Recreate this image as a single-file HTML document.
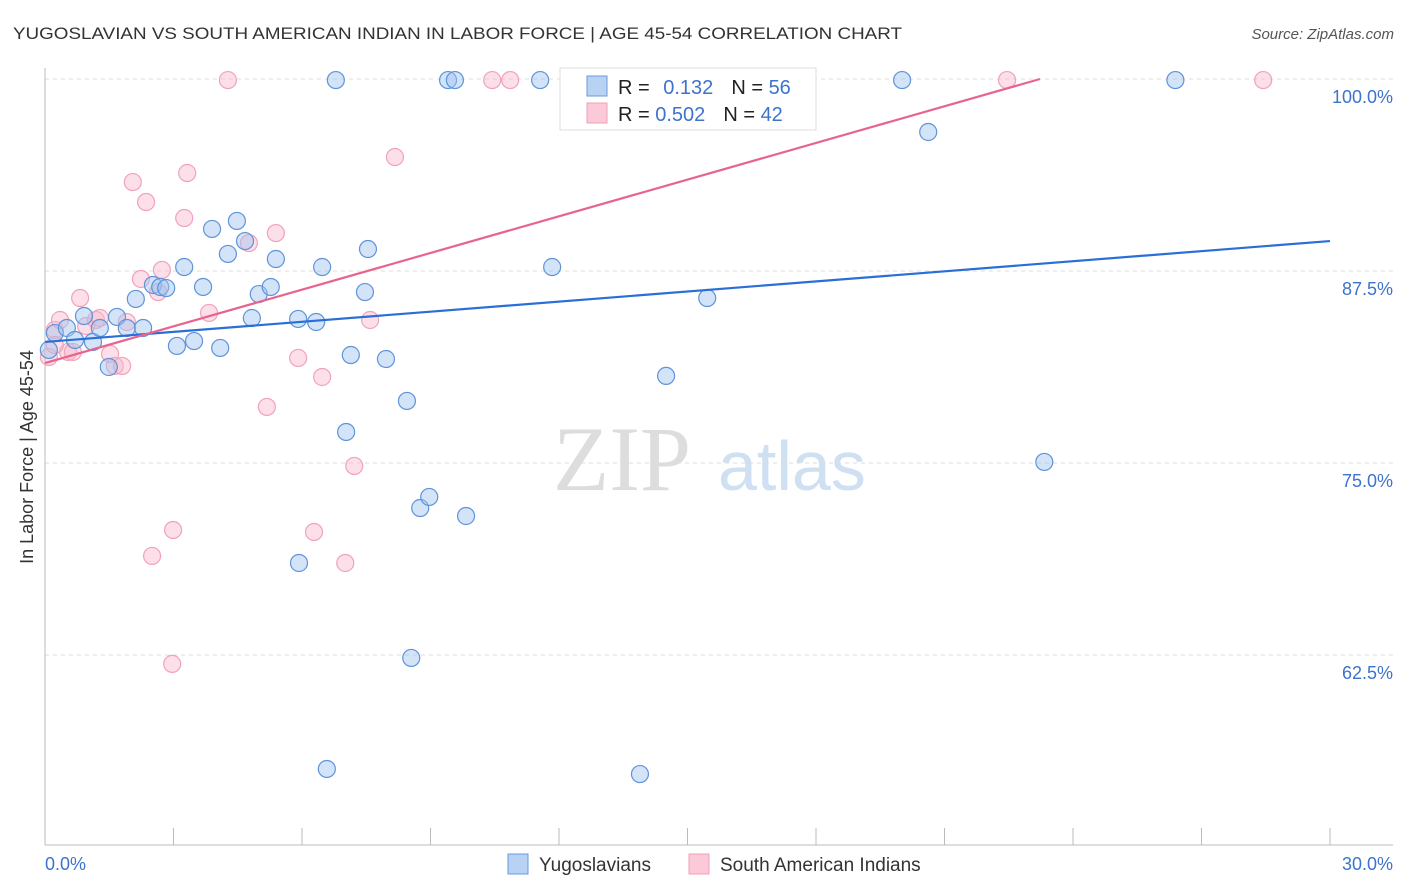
<!DOCTYPE html>
<html><head><meta charset="utf-8"><style>
body{margin:0;background:#fff;font-family:"Liberation Sans",sans-serif;}
svg{display:block}
</style></head><body>
<svg id="c" width="1406" height="892">
<text x="13" y="39" font-size="17" fill="#333" textLength="889" lengthAdjust="spacingAndGlyphs">YUGOSLAVIAN VS SOUTH AMERICAN INDIAN IN LABOR FORCE | AGE 45-54 CORRELATION CHART</text>
<text x="1394" y="39" font-size="15" fill="#555" font-style="italic" text-anchor="end">Source: ZipAtlas.com</text>
<g><text x="553" y="490" font-size="92" font-family="Liberation Serif" fill="#ddd">ZIP</text><text x="718" y="490" font-size="70" fill="#cfe0f3">atlas</text></g>
<text transform="translate(33,457) rotate(-90)" font-size="18" fill="#333" text-anchor="middle">In Labor Force | Age 45-54</text>
<g id="grid"></g><g id="axes"></g><g id="pts"></g><g id="lines"></g>
<g>
<rect x="560" y="68" width="256" height="62" fill="#fff" stroke="#ddd"/>
<rect x="587" y="76" width="20" height="20" fill="#b8d2f3" stroke="#6a9ae0"/>
<rect x="587" y="103" width="20" height="20" fill="#fbc9d8" stroke="#f0a0b8"/>
<text x="618" y="94" font-size="20" fill="#222">R = <tspan fill="#3d73cc" dx="8">0.132</tspan><tspan dx="18" fill="#222">N = </tspan><tspan fill="#3d73cc">56</tspan></text>
<text x="618" y="121" font-size="20" fill="#222">R = <tspan fill="#3d73cc">0.502</tspan><tspan dx="18" fill="#222">N = </tspan><tspan fill="#3d73cc">42</tspan></text>
</g>
<g>
<rect x="508" y="854" width="20" height="20" fill="#b8d2f3" stroke="#6a9ae0"/>
<text x="539" y="871" font-size="19" fill="#333">Yugoslavians</text>
<rect x="689" y="854" width="20" height="20" fill="#fbc9d8" stroke="#f0a0b8"/>
<text x="720" y="871" font-size="19" fill="#333">South American Indians</text>
</g>
</svg>
<script>
const yTicks=[100,87.5,75,62.5];
const yTickLabels=["100.0%","87.5%","75.0%","62.5%"];
const xLabels=["0.0%","30.0%"];
const blueX=[0.23,0.51,0.70,0.91,1.12,1.28,1.49,1.68,1.91,2.12,2.29,2.52,2.69,2.83,3.08,3.25,3.48,3.69,3.90,4.09,4.27,4.48,4.67,4.83,4.99,5.27,5.39,5.91,5.93,6.33,6.47,6.58,6.79,7.03,7.14,7.47,7.54,7.96,8.45,8.55,8.76,8.97,9.41,9.57,9.83,11.56,11.84,12.63,13.89,14.50,15.46,20.01,20.62,23.33,26.39,0.09];
const blueY=[83.46,83.79,83.01,84.57,82.88,83.79,81.25,84.51,83.79,85.68,83.79,86.59,86.46,86.39,82.62,87.76,82.94,86.46,90.24,82.49,88.61,90.76,89.45,84.44,86.0,86.46,88.28,84.38,68.49,84.18,87.76,55.08,99.93,77.02,82.03,86.13,88.93,81.77,79.04,62.31,72.07,72.79,99.93,99.93,71.55,99.93,87.76,99.93,54.75,80.67,85.74,99.93,96.55,75.07,99.93,82.36];
const pinkX=[0.09,0.23,0.35,0.54,0.65,0.82,0.96,1.19,1.28,1.52,1.63,1.80,1.91,2.05,2.24,2.36,2.50,2.64,2.73,2.97,2.99,3.25,3.32,3.83,4.27,4.76,5.18,5.39,5.91,6.28,6.47,7.01,7.22,7.59,8.17,10.44,10.86,12.54,17.35,22.46,28.44,0.23];
const pinkY=[81.90,83.66,84.31,82.23,82.23,85.74,83.92,84.31,84.44,82.10,81.32,81.32,84.18,93.29,86.98,91.99,68.95,86.13,87.57,61.92,70.64,90.95,93.88,84.77,99.93,89.32,78.65,89.97,81.84,70.51,80.60,68.49,74.81,84.31,94.92,99.93,99.93,99.93,99.93,99.93,99.93,82.68];
const blueTrend=[[0,82.88],[30,89.45]];
const pinkTrend=[[0,81.51],[23.23,100]];
const X=v=>45+v/30*1285, Y=v=>79+(100-v)/12.5*192;
const NS="http://www.w3.org/2000/svg";
function mk(t,a,p){const e=document.createElementNS(NS,t);for(const k in a)e.setAttribute(k,a[k]);p.appendChild(e);return e;}
const g=document.getElementById('grid'),ax=document.getElementById('axes'),pts=document.getElementById('pts'),ln=document.getElementById('lines');
yTicks.forEach((t,i)=>{
 const l=mk('line',{x1:45,x2:1393,y1:Y(t),y2:Y(t),stroke:'#ddd','stroke-dasharray':'4,4'},g);
 
 
 const tx=mk('text',{x:1393,y:Y(t)+24,'font-size':18,fill:'#3d73cc','text-anchor':'end'},ax);
 tx.textContent=yTickLabels[i];
 
 
});
const ya=mk('line',{x1:45,x2:45,y1:68,y2:845,stroke:'#bbb'},ax);


const xa=mk('line',{x1:45,x2:1393,y1:845,y2:845,stroke:'#bbb'},ax);


for(let i=0;i<=10;i++){const t=mk('line',{x1:X(i*3),x2:X(i*3),y1:828,y2:845,stroke:'#bbb'},ax);
 
 }
[[0,'start',45],[1,'end',1393]].forEach(([i,a,x])=>{const t=mk('text',{x:x,y:870,'font-size':18,fill:'#3d73cc','text-anchor':a},ax);t.textContent=xLabels[i];
 
 });
function dots(xs,ys,fill,stroke,name){xs.forEach((v,i)=>{const c=mk('circle',{cx:X(v),cy:Y(ys[i]),r:8.5,fill:fill,stroke:stroke,'stroke-width':1.2},pts);
 
 });}
dots(pinkX,pinkY,'rgba(248,185,205,0.45)','#f0a3bb','pink-point');
dots(blueX,blueY,'rgba(160,195,240,0.45)','#5f93da','blue-point');
const b=mk('line',{x1:X(blueTrend[0][0]),y1:Y(blueTrend[0][1]),x2:X(blueTrend[1][0]),y2:Y(blueTrend[1][1]),stroke:'#2a6fd6','stroke-width':2.2},ln);


const p=mk('line',{x1:X(pinkTrend[0][0]),y1:Y(pinkTrend[0][1]),x2:X(pinkTrend[1][0]),y2:Y(pinkTrend[1][1]),stroke:'#e8648e','stroke-width':2.2},ln);


</script>
</body></html>
